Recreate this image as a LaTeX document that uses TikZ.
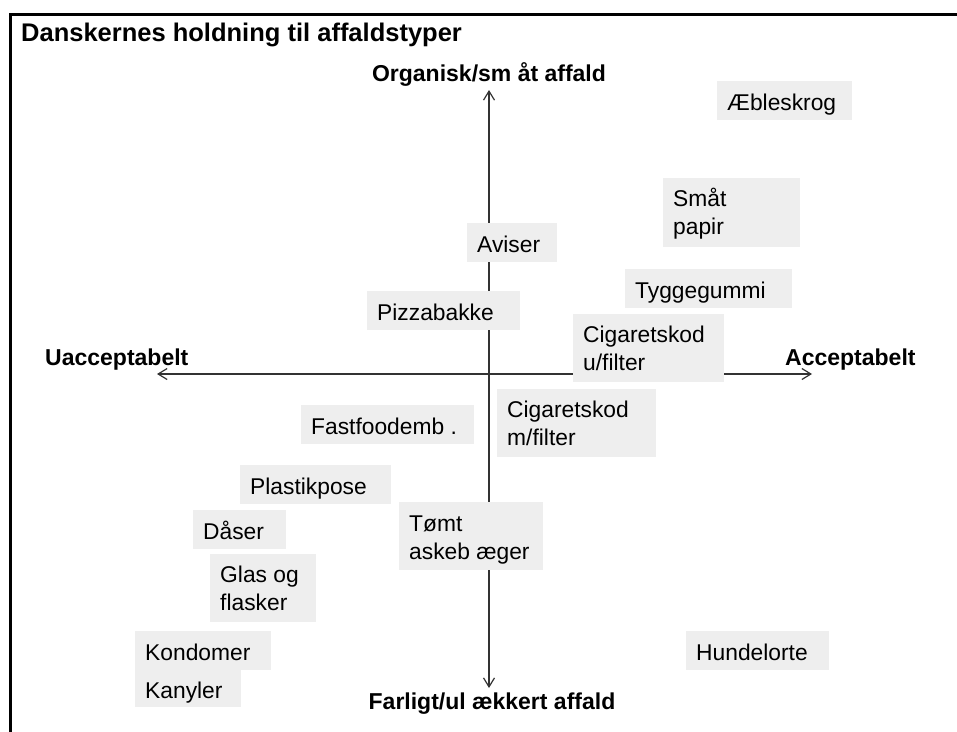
\documentclass[tikz,border=0pt]{standalone}
\usepackage{fontspec}
\setmainfont{Liberation Sans}
\usetikzlibrary{arrows.meta}
\definecolor{boxgray}{HTML}{EEEEEE}
\tikzset{
  x=1pt, y=-1pt,
  gbox/.style={fill=boxgray, draw=none, anchor=north west, inner sep=0pt},
  gtxt/.style={anchor=base west, inner sep=0pt, align=left, text=black,
    font=\fontsize{22.8}{28}\selectfont},
  axlbl/.style={inner sep=0pt, anchor=base west,
    font=\bfseries\fontsize{23}{28}\selectfont},
  axisline/.style={line width=1.5pt, draw=black!80,
    {Straight Barb[length=9pt,width=11pt,line width=1.2pt]}-{Straight Barb[length=9pt,width=11pt,line width=1.2pt]}},
  framestyle/.style={line width=3pt, line join=miter}
}
\begin{document}
\begin{tikzpicture}
\useasboundingbox (0,0) rectangle (957,731);
% frame
\coordinate (fr1) at (960,14);
\coordinate (fr2) at (10,14);
\coordinate (fr3) at (10,735);
\draw[framestyle] (fr1) -- (fr2) -- (fr3);
% title
\node[font=\bfseries\fontsize{25.5}{30}\selectfont, anchor=base west, inner sep=0pt] (title) at (21,41) {Danskernes holdning til affaldstyper};
% axes
\coordinate (L) at (157,374);
\coordinate (R) at (812,374);
\coordinate (T) at (489,90);
\coordinate (B) at (489,688);
\draw[axisline] (L) -- (R);
\draw[axisline] (T) -- (B);
% axis labels
\node[axlbl] (ua) at (45,365) {Uacceptabelt};
\node[axlbl] (ac) at (785,365) {Acceptabelt};
\node[axlbl, anchor=base] (org) at (489,81) {Organisk/sm åt affald};
\node[axlbl, anchor=base] (far) at (492,709) {Farligt/ul ækkert affald};
% boxes (two-line texts are anchored at the baseline of their last line)
\node[gbox, minimum width=135pt, minimum height=39pt] (b1) at (717,81) {};
\node[gtxt, xshift=10pt, yshift=-29pt] (t1) at (b1.north west) {Æbleskrog};
\node[gbox, minimum width=137pt, minimum height=69pt] (b2) at (663,178) {};
\node[gtxt, xshift=10pt, yshift=-56.5pt] (t2) at (b2.north west) {Småt\\papir};
\node[gbox, minimum width=167pt, minimum height=39pt] (b3) at (625,269) {};
\node[gtxt, xshift=10pt, yshift=-29pt] (t3) at (b3.north west) {Tyggegummi};
\node[gbox, minimum width=90pt, minimum height=39pt] (b4) at (467,223) {};
\node[gtxt, xshift=10pt, yshift=-29pt] (t4) at (b4.north west) {Aviser};
\node[gbox, minimum width=153pt, minimum height=39pt] (b5) at (367,291) {};
\node[gtxt, xshift=10pt, yshift=-29pt] (t5) at (b5.north west) {Pizzabakke};
\node[gbox, minimum width=151pt, minimum height=68pt] (b6) at (573,314) {};
\node[gtxt, xshift=10pt, yshift=-56pt] (t6) at (b6.north west) {Cigaretskod\\u/filter};
\node[gbox, minimum width=173pt, minimum height=39pt] (b7) at (301,405) {};
\node[gtxt, xshift=10pt, yshift=-29pt] (t7) at (b7.north west) {Fastfoodemb .};
\node[gbox, minimum width=159pt, minimum height=68pt] (b8) at (497,389) {};
\node[gtxt, xshift=10pt, yshift=-56pt] (t8) at (b8.north west) {Cigaretskod\\m/filter};
\node[gbox, minimum width=151pt, minimum height=39pt] (b9) at (240,465) {};
\node[gtxt, xshift=10pt, yshift=-29pt] (t9) at (b9.north west) {Plastikpose};
\node[gbox, minimum width=144pt, minimum height=68pt] (b10) at (399,502) {};
\node[gtxt, xshift=10pt, yshift=-57pt] (t10) at (b10.north west) {Tømt\\askeb æger};
\node[gbox, minimum width=93pt, minimum height=39pt] (b11) at (193,510) {};
\node[gtxt, xshift=10pt, yshift=-29pt] (t11) at (b11.north west) {Dåser};
\node[gbox, minimum width=106pt, minimum height=68pt] (b12) at (210,554) {};
\node[gtxt, xshift=10pt, yshift=-56pt] (t12) at (b12.north west) {Glas og\\flasker};
\node[gbox, minimum width=136pt, minimum height=39pt] (b13) at (135,631) {};
\node[gtxt, xshift=10pt, yshift=-29pt] (t13) at (b13.north west) {Kondomer};
\node[gbox, minimum width=106pt, minimum height=37pt] (b14) at (135,670) {};
\node[gtxt, xshift=10pt, yshift=-28pt] (t14) at (b14.north west) {Kanyler};
\node[gbox, minimum width=143pt, minimum height=39pt] (b15) at (686,631) {};
\node[gtxt, xshift=10pt, yshift=-29pt] (t15) at (b15.north west) {Hundelorte};
\end{tikzpicture}
\end{document}
